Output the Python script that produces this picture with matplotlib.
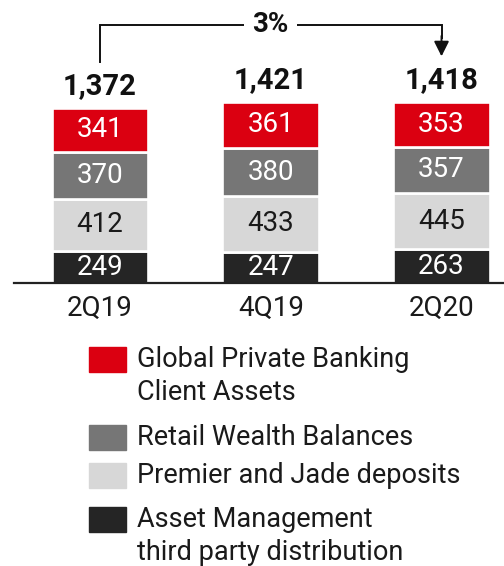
import matplotlib
matplotlib.use("Agg")
import matplotlib.pyplot as plt
import matplotlib.patches as mpatches
import numpy as np

plt.rcParams["font.family"] = ["Roboto", "Liberation Sans", "DejaVu Sans"]

# ---- data ----
periods = ["2Q19", "4Q19", "2Q20"]
asset_mgmt = [249, 247, 263]
premier_jade = [412, 433, 445]
retail_wealth = [370, 380, 357]
gpb_assets = [341, 361, 353]
totals = [1372, 1421, 1418]
change_label = "3%"

series = [
    ("Asset Management\nthird party distribution", asset_mgmt, "#252525", "white"),
    ("Premier and Jade deposits", premier_jade, "#D7D7D7", "#1a1a1a"),
    ("Retail Wealth Balances", retail_wealth, "#767676", "white"),
    ("Global Private Banking\nClient Assets", gpb_assets, "#DB0011", "white"),
]

fig = plt.figure(figsize=(5.04, 5.66), dpi=100)
ax = fig.add_axes([0, 0, 1, 1])
ax.set_xlim(-0.586, 2.366)
ax.set_ylim(-2220, 2220)
ax.axis("off")

x = np.arange(len(periods))
bottom = np.zeros(len(periods))
for name, vals, col, tcol in series:
    ax.bar(x, vals, 0.566, bottom=bottom, color=col, edgecolor="white", linewidth=1.9)
    for i, v in enumerate(vals):
        ax.text(x[i], bottom[i] + v / 2, f"{v}", ha="center", va="center",
                fontsize=20, color=tcol)
    bottom += np.array(vals)

# baseline
ax.axhline(0, xmin=14 / 504, xmax=1, color="#222222", lw=1.6)

# category labels
for i, p in enumerate(periods):
    ax.text(x[i], -196, p, ha="center", va="center", fontsize=20, color="#1a1a1a")

# totals
for i, t in enumerate(totals):
    ax.text(x[i], t + 172, f"{t:,}", ha="center", va="center", fontsize=21,
            fontweight="bold", color="#111111")

# growth bracket
y_top = max(totals) + 603
ax.plot([x[0], x[0], x[2], x[2]], [totals[0] + 360, y_top, y_top, totals[2] + 500],
        color="#111111", lw=1.4, solid_joinstyle="miter", zorder=2)
ax.annotate("", xy=(x[2], totals[2] + 360), xytext=(x[2], totals[2] + 520),
            arrowprops=dict(arrowstyle="-|>,head_length=0.9,head_width=0.45",
                            color="#111111", lw=1.4, shrinkA=0, shrinkB=0))
ax.text(x[1], y_top, change_label, ha="center", va="center", fontsize=20,
        fontweight="bold", color="#111111",
        bbox=dict(boxstyle="square,pad=0.3", facecolor="white", edgecolor="none"),
        zorder=3)

# legend (drawn manually, top entry first)
leg_y = [347, 425, 463, 507]  # top of each swatch, px from top
for (name, vals, col, tcol), ytop in zip(series[::-1], leg_y):
    fig.patches.append(mpatches.Rectangle((89 / 504, 1 - (ytop + 25) / 566), 37 / 504, 25 / 566,
                                          transform=fig.transFigure, color=col))
    fig.text(137 / 504, 1 - (ytop - 1) / 566, name, ha="left", va="top", fontsize=19.5,
             color="#1a1a1a", linespacing=1.3)

fig.savefig("out.png", dpi=100, facecolor="white")
